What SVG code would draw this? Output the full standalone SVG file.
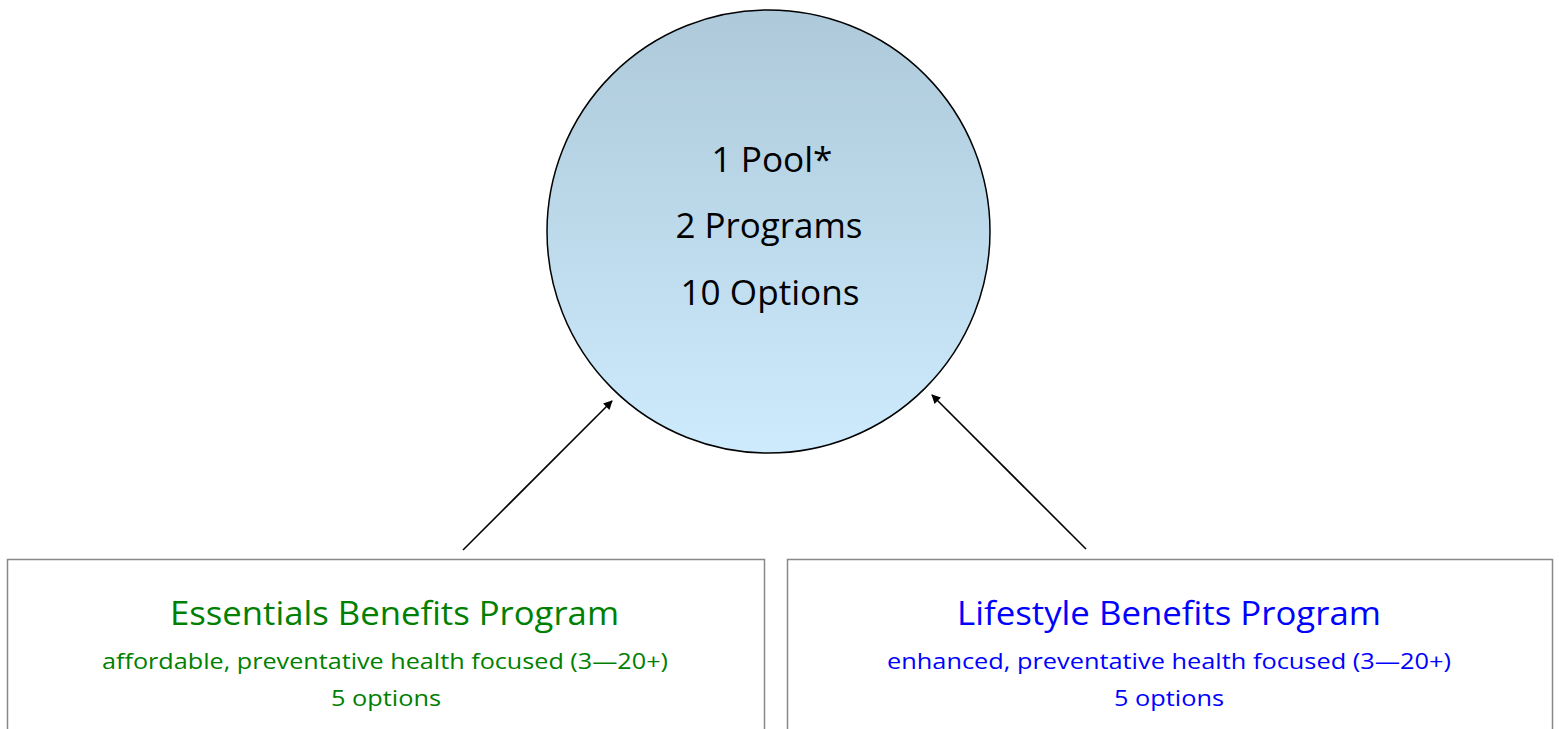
<svg xmlns="http://www.w3.org/2000/svg" width="1559" height="729" viewBox="0 0 1559 729">
<style>
.box{fill:#fff;stroke:#888;stroke-width:1.5}
.ctr{font-family:"Open Sans","DejaVu Sans",sans-serif;text-anchor:middle}
.big{font-size:35px;fill:#000}
.ttl{font-size:33px}
.sub{font-size:22.5px}
.g{fill:#008000}
.b{fill:#0000ff}
.conn{stroke:#000;stroke-width:1.6;fill:none;marker-end:url(#ah)}
</style>
<defs>
<linearGradient id="cg" x1="0" y1="0" x2="0" y2="1">
<stop offset="0" stop-color="#adc9da"/>
<stop offset="1" stop-color="#cdebfd"/>
</linearGradient>
<marker id="ah" viewBox="0 0 10 10" refX="9" refY="5" markerWidth="10" markerHeight="9" markerUnits="userSpaceOnUse" orient="auto">
<path d="M0,0 L10,5 L0,10 z" fill="#000"/>
</marker>
</defs>
<g id="pool">
<circle cx="768.5" cy="231.5" r="221.5" fill="url(#cg)" stroke="#000" stroke-width="1.5"/>
<text class="ctr big" x="772" y="172" textLength="121" lengthAdjust="spacingAndGlyphs">1 Pool*</text>
<text class="ctr big" x="769" y="238" textLength="187" lengthAdjust="spacingAndGlyphs">2 Programs</text>
<text class="ctr big" x="770" y="305" textLength="179" lengthAdjust="spacingAndGlyphs">10 Options</text>
</g>
<g id="essentials">
<rect class="box" x="7.5" y="559.5" width="757" height="180"/>
<text class="ctr ttl g" x="394.5" y="625" textLength="449" lengthAdjust="spacingAndGlyphs">Essentials Benefits Program</text>
<text class="ctr sub g" x="385" y="669" textLength="566" lengthAdjust="spacingAndGlyphs">affordable, preventative health focused (3—20+)</text>
<text class="ctr sub g" x="386" y="706" textLength="110" lengthAdjust="spacingAndGlyphs">5 options</text>
</g>
<g id="lifestyle">
<rect class="box" x="787.5" y="559.5" width="765" height="180"/>
<text class="ctr ttl b" x="1169" y="625" textLength="424" lengthAdjust="spacingAndGlyphs">Lifestyle Benefits Program</text>
<text class="ctr sub b" x="1169" y="669" textLength="564" lengthAdjust="spacingAndGlyphs">enhanced, preventative health focused (3—20+)</text>
<text class="ctr sub b" x="1169" y="706" textLength="110" lengthAdjust="spacingAndGlyphs">5 options</text>
</g>
<g id="connectors">
<line class="conn" x1="463" y1="550" x2="612" y2="401"/>
<line class="conn" x1="1086" y1="549" x2="932" y2="395"/>
</g>
</svg>
